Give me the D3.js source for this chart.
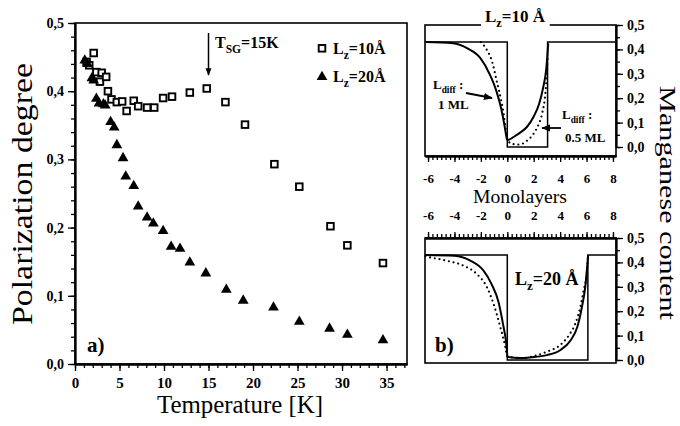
<!DOCTYPE html>
<html>
<head>
<meta charset="utf-8">
<script src="https://cdn.jsdelivr.net/npm/d3@7"></script>
<style>
body{margin:0;background:#fff}
text{font-family:"Liberation Serif","Times New Roman",serif}
</style>
</head>
<body>
<div id="chart"></div>
<script>
// panel a) : polarization degree vs temperature
var sqT = [1.3,1.6,2.1,2.4,2.8,3.0,3.5,3.7,4.1,4.7,5.3,5.8,6.6,7.1,8.1,8.9,9.9,10.9,12.9,14.8,16.9,19.1,22.4,25.2,28.7,30.6,34.6]
var sqP = [0.443,0.438,0.456,0.428,0.414,0.427,0.421,0.400,0.388,0.384,0.385,0.371,0.386,0.378,0.376,0.376,0.390,0.392,0.398,0.404,0.384,0.351,0.293,0.260,0.202,0.174,0.148]
var triT = [1.1,1.4,1.9,2.1,2.4,2.7,3.2,3.4,4.0,4.4,4.7,5.4,5.7,6.6,7.1,8.1,8.8,9.9,10.8,11.8,12.9,14.7,17.0,18.9,22.3,25.2,28.6,30.6,34.6]
var triP = [0.445,0.440,0.419,0.416,0.389,0.382,0.381,0.379,0.355,0.347,0.321,0.302,0.275,0.261,0.231,0.215,0.206,0.195,0.172,0.169,0.149,0.133,0.109,0.093,0.083,0.062,0.052,0.043,0.035]
var tempTicks = [0,5,10,15,20,25,30,35]
var polTicks = [0,0.1,0.2,0.3,0.4,0.5]

// panel b) : manganese profiles (Monolayers)
var mlTicks = [-6,-4,-2,0,2,4,6,8]
var mnTicks = [0,0.1,0.2,0.3,0.4,0.5]
var step10Z = [-6.2,0,0,3.05,3.05,8.2]
var step10C = [0.43,0.43,0,0,0.43,0.43]
var solid10Z = [-6.2,-4.1,-3.05,-2.05,-1.35,-0.8,-0.45,-0.2,0,0.5,1.0,1.5,2.0,2.4,2.7,2.95,3.1]
var solid10C = [0.43,0.425,0.405,0.365,0.30,0.225,0.155,0.085,0.028,0.042,0.06,0.083,0.125,0.175,0.24,0.32,0.425]
var dot10Z = [-2.0,-1.55,-1.15,-0.8,-0.5,-0.27,-0.12,0,0.4,0.9,1.5,2.0,2.35,2.65,2.9,3.05]
var dot10C = [0.43,0.398,0.35,0.27,0.20,0.135,0.07,0.03,0.012,0.01,0.026,0.055,0.09,0.14,0.23,0.36]
var step20Z = [-6.2,0,0,6.1,6.1,8.2]
var step20C = [0.43,0.43,0,0,0.43,0.43]
var solid20Z = [-6.2,-4.0,-2.8,-1.8,-1.2,-0.66,-0.33,-0.08,0.02,1.0,1.8,3.0,4.0,4.8,5.3,5.65,5.9,6.12]
var solid20C = [0.43,0.427,0.407,0.366,0.312,0.237,0.149,0.068,0.013,0.008,0.011,0.02,0.04,0.081,0.135,0.217,0.298,0.43]
var dot20Z = [-6.2,-5.8,-4.6,-3.3,-2.3,-1.54,-1.04,-0.53,-0.15,0,1.0,2.0,3.0,4.0,4.65,5.15,5.53,5.78,6.04,6.1]
var dot20C = [0.425,0.42,0.407,0.386,0.352,0.298,0.23,0.135,0.054,0.015,0.007,0.016,0.034,0.061,0.10,0.149,0.217,0.285,0.366,0.42]

var serif = '"Liberation Serif","Times New Roman",serif'
var svg = d3.select('#chart').append('svg')
.attr('width',680)
.attr('height',426)
.attr('font-family',serif)

var defs = svg.append('defs')
defs.append('marker').attr('id','head')
.attr('viewBox','0 0 10 10').attr('refX',9).attr('refY',5)
.attr('markerWidth',5).attr('markerHeight',5).attr('orient','auto')
.append('path').attr('d','M0,1L10,5L0,9z').attr('fill','#000')

function comma(d){return d.toFixed(1).replace('.',',')}
function styleAxis(g,size){
    g.attr('font-family',serif)
    g.selectAll('text').attr('font-family',serif).attr('font-size',size).attr('font-weight','bold').attr('fill','#000')
    g.selectAll('line').attr('stroke','#000').attr('stroke-width',1.3)
    g.selectAll('path').attr('stroke','#000').attr('stroke-width',1.8)
}
function subLabel(x0,y0,main,sub,rest,size,weight){
    var t = svg.append('text').attr('x',x0).attr('y',y0).attr('font-size',size).attr('font-weight',weight||'bold')
    t.append('tspan').text(main)
    t.append('tspan').attr('dy',size*0.3).attr('font-size',size*0.72).text(sub)
    t.append('tspan').attr('dy',-size*0.3).text(rest)
    return t
}

// ---------- a) ----------
var x = d3.scaleLinear().domain([0,37.3]).range([75,407])
var y = d3.scaleLinear().domain([0,0.5]).range([364,23])

svg.append('rect').attr('x',75).attr('y',23).attr('width',332).attr('height',341)
.attr('fill','none').attr('stroke','#000').attr('stroke-width',1.6)

var xminor = svg.append('g').attr('transform','translate(0,364)')
.call(d3.axisBottom(x).tickValues(d3.range(0,38,1)).tickSize(4).tickSizeOuter(0).tickFormat(''))
styleAxis(xminor,15)
var xaxis = svg.append('g').attr('transform','translate(0,364)')
.call(d3.axisBottom(x).tickValues(tempTicks).tickSize(7).tickSizeOuter(0).tickPadding(6).tickFormat(d3.format('d')))
styleAxis(xaxis,15)
var yminor = svg.append('g').attr('transform','translate(75,0)')
.call(d3.axisLeft(y).tickValues(d3.range(0,0.501,0.02)).tickSize(4).tickSizeOuter(0).tickFormat(''))
styleAxis(yminor,15)
var yaxis = svg.append('g').attr('transform','translate(75,0)')
.call(d3.axisLeft(y).tickValues(polTicks).tickSize(7).tickSizeOuter(0).tickPadding(4).tickFormat(comma))
styleAxis(yaxis,14)

svg.append('text').attr('x',240).attr('y',413).attr('text-anchor','middle')
.attr('font-size',25).attr('textLength',166).attr('lengthAdjust','spacingAndGlyphs')
.text('Temperature [K]')
svg.append('text').attr('transform','translate(32,194) rotate(-90)').attr('text-anchor','middle')
.attr('font-size',29).attr('textLength',262).attr('lengthAdjust','spacingAndGlyphs')
.text('Polarization degree')

var sq = svg.append('g')
sq.selectAll('rect').data(sqT).enter().append('rect')
.attr('x',function(d){return x(d)-3.3})
.attr('y',function(d,i){return y(sqP[i])-3.3})
.attr('width',6.6).attr('height',6.6)
.attr('fill','#fff').attr('stroke','#000').attr('stroke-width',1.9)

var tri = svg.append('g')
tri.selectAll('path').data(triT).enter().append('path')
.attr('d',d3.symbol(d3.symbolTriangle,50))
.attr('transform',function(d,i){return 'translate('+x(d)+','+y(triP[i])+')'})
.attr('fill','#000')

// legend
svg.append('rect').attr('x',318.7).attr('y',45).attr('width',6.6).attr('height',6.6)
.attr('fill','#fff').attr('stroke','#000').attr('stroke-width',1.9)
svg.append('path').attr('d',d3.symbol(d3.symbolTriangle,50)).attr('transform','translate(322,77)')
subLabel(333,54,'L','z','=10Å',16)
subLabel(333,82,'L','z','=20Å',16)

// spin glass arrow
svg.append('line').attr('x1',x(15)).attr('x2',x(15)).attr('y1',33).attr('y2',75)
.attr('stroke','#000').attr('stroke-width',1.5).attr('marker-end','url(#head)')
subLabel(215,48,'T','SG','=15K',16)

svg.append('text').attr('x',87).attr('y',352).attr('font-size',21).attr('font-weight','bold').text('a)')

// ---------- b) ----------
var z = d3.scaleLinear().domain([-6.23,8.23]).range([425,616])
var cTop = d3.scaleLinear().domain([0,0.5]).range([147,25])
var cBot = d3.scaleLinear().domain([0,0.5]).range([360,238])

function inset(c,yTopPx,yBotPx){
    svg.append('rect').attr('x',425).attr('y',yTopPx).attr('width',191).attr('height',yBotPx-yTopPx)
    .attr('fill','none').attr('stroke','#000').attr('stroke-width',1.6)
    var rminor = svg.append('g').attr('transform','translate(616,0)')
    .call(d3.axisRight(c).tickValues(d3.range(0,0.501,0.05)).tickSize(4).tickSizeOuter(0).tickFormat(''))
    styleAxis(rminor,14)
    var r = svg.append('g').attr('transform','translate(616,0)')
    .call(d3.axisRight(c).tickValues(mnTicks).tickSize(7).tickSizeOuter(0).tickPadding(4).tickFormat(comma))
    styleAxis(r,14)
}
function profile(zs,cs,c,dotted){
    var line = d3.line().x(function(d){return z(d)}).y(function(d,i){return c(cs[i])})
    if(dotted!=='step') line.curve(d3.curveMonotoneX)
    var p = svg.append('path').datum(zs).attr('d',line).attr('fill','none').attr('stroke','#000')
    if(dotted===true) p.attr('stroke-width',2.2).attr('stroke-dasharray','0,4.8').attr('stroke-linecap','round')
    else if(dotted==='step') p.attr('stroke-width',1.5)
    else p.attr('stroke-width',2)
}

// top inset, Lz=10 A
inset(cTop,25,156)
var zb = svg.append('g').attr('transform','translate(0,156)')
.call(d3.axisBottom(z).tickValues(d3.range(-6,8.01,1/3)).tickSize(4).tickSizeOuter(0).tickFormat(''))
styleAxis(zb,13)
var zb2 = svg.append('g').attr('transform','translate(0,156)')
.call(d3.axisBottom(z).tickValues(mlTicks).tickSize(6).tickSizeOuter(0).tickPadding(12).tickFormat(function(d){return String(d)}))
styleAxis(zb2,13)
profile(step10Z,step10C,cTop,'step')
profile(solid10Z,solid10C,cTop,false)
profile(dot10Z,dot10C,cTop,true)

var title = subLabel(515,22,'L','z','=10 Å',17).attr('text-anchor','middle')
var bb = title.node().getBBox()
svg.insert('rect',function(){return title.node()}).attr('x',bb.x-4).attr('y',bb.y).attr('width',bb.width+8).attr('height',bb.height)
.attr('fill','#fff')

subLabel(433,89,'L','diff',' :',13)
svg.append('text').attr('x',438).attr('y',109).attr('font-size',13).attr('font-weight','bold').text('1 ML')
svg.append('line').attr('x1',466).attr('y1',93).attr('x2',492).attr('y2',98)
.attr('stroke','#000').attr('stroke-width',1.8).attr('marker-end','url(#head)')
subLabel(562,119,'L','diff',' :',13)
svg.append('text').attr('x',565).attr('y',142).attr('font-size',13).attr('font-weight','bold').text('0.5 ML')
svg.append('line').attr('x1',561).attr('y1',128).attr('x2',542).attr('y2',128)
.attr('stroke','#000').attr('stroke-width',1.8).attr('marker-end','url(#head)')

svg.append('text').attr('x',520).attr('y',203).attr('text-anchor','middle')
.attr('font-size',18).attr('textLength',94).attr('lengthAdjust','spacingAndGlyphs')
.text('Monolayers')

// bottom inset, Lz=20 A
inset(cBot,238,363)
var zt = svg.append('g').attr('transform','translate(0,238)')
.call(d3.axisTop(z).tickValues(d3.range(-6,8.01,1/3)).tickSize(4).tickSizeOuter(0).tickFormat(''))
styleAxis(zt,13)
var zt2 = svg.append('g').attr('transform','translate(0,238)')
.call(d3.axisTop(z).tickValues(mlTicks).tickSize(6).tickSizeOuter(0).tickPadding(12).tickFormat(function(d){return String(d)}))
styleAxis(zt2,13)
profile(step20Z,step20C,cBot,'step')
profile(solid20Z,solid20C,cBot,false)
profile(dot20Z,dot20C,cBot,true)

subLabel(515,285,'L','z','=20 Å',18)
svg.append('text').attr('x',435).attr('y',352).attr('font-size',21).attr('font-weight','bold').text('b)')

svg.append('text').attr('transform','translate(660,203) rotate(90)').attr('text-anchor','middle')
.attr('font-size',24).attr('textLength',234).attr('lengthAdjust','spacingAndGlyphs')
.text('Manganese content')
</script>
</body>
</html>
